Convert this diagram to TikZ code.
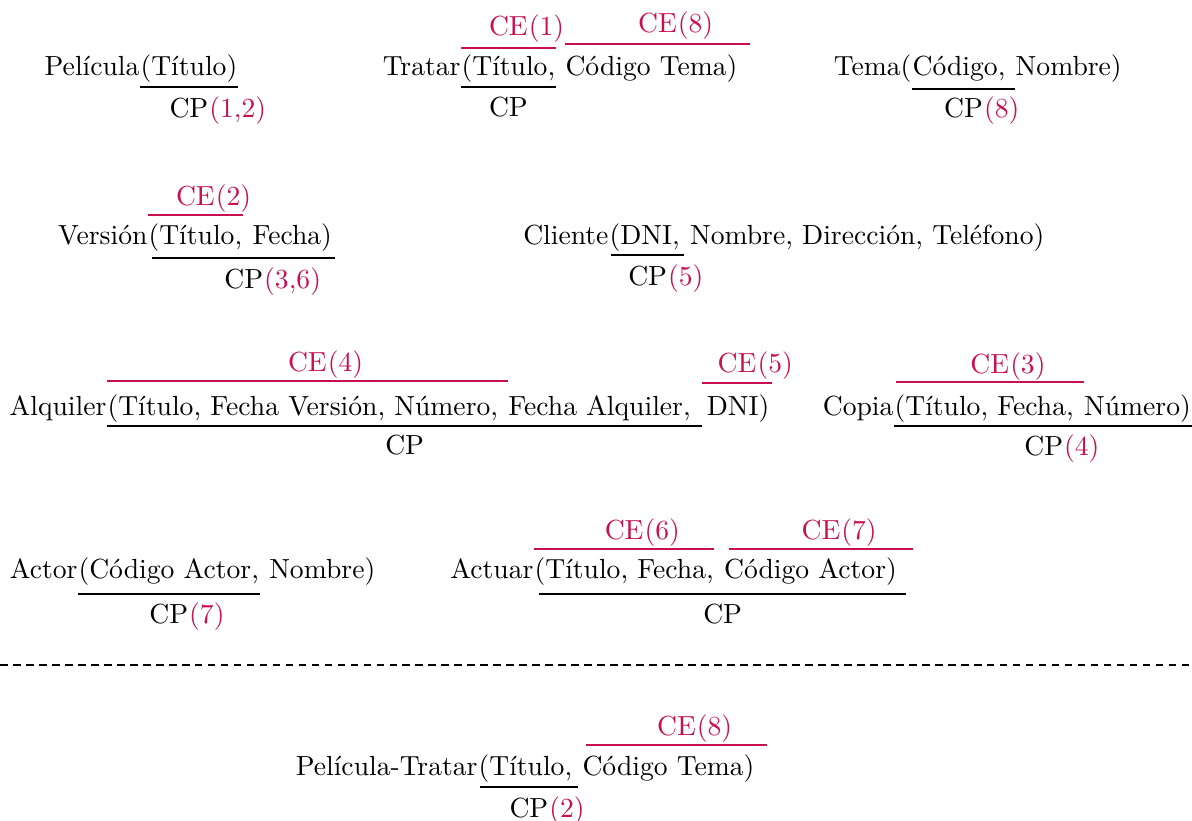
\documentclass[tikz,border=0pt]{standalone}
\usepackage{tikz}
\usetikzlibrary{calc}
\definecolor{fkred}{RGB}{200,16,80}

\begin{document}
\begin{tikzpicture}[
x=0.362pt,
y=-0.362pt,
rgt/.style={
  inner sep=0pt,
  anchor=base west
  },
lft/.style={
  inner sep=0pt,
  anchor=base east
  },
cen/.style={
  inner sep=0pt,
  anchor=base
  },
cet/.style={
  cen,
  text=fkred
  },
num/.style={
  rgt,
  text=fkred
  },
pk/.style={
  draw=black,
  line width=0.6pt
  },
fk/.style={
  draw=fkred,
  line width=0.6pt
  }
]
\useasboundingbox (0,0) rectangle (1192,821);

% Pelicula
\node[rgt] (pel-k) at (140,76) {(Título)};
\node[lft] (pel) at (pel-k.base west) {Película};
\draw[pk] ($(pel-k.base west)+(0,11)$) coordinate (pel-a) -- ($(pel-k.base east)+(0,11)$) coordinate (pel-b);
\node[cen] (pel-cp) at ($(pel-a)!0.5!(pel-b)+(0,31)$) {CP};
\node[num] (pel-n) at (pel-cp.base east) {(1,2)};

% Tratar
\node[rgt] (tra-k) at (461,76) {(Título,};
\node[lft] (tra) at (tra-k.base west) {Tratar};
\node[rgt] (tra-r) at ([xshift=3.33pt]tra-k.base east) {Código Tema)};
\draw[pk] ($(tra-k.base west)+(0,11)$) coordinate (tra-a) -- ($(tra-k.base east)+(0,11)$) coordinate (tra-b);
\node[cen] (tra-cp) at ($(tra-a)!0.5!(tra-b)+(0,30)$) {CP};
\draw[fk] ($(tra-k.base west)+(0,-28)$) coordinate (tra-c) -- ($(tra-k.base east)+(0,-28)$) coordinate (tra-d);
\node[cet] (tra-ce1) at ($(tra-c)!0.5!(tra-d)+(0,-12)$) {CE};
\node[num] (tra-n1) at (tra-ce1.base east) {(1)};
\draw[fk] ($(tra-r.base west)+(0,-32)$) coordinate (tra-e) -- ($(tra-r.base east)+(12,-32)$) coordinate (tra-f);
\node[cet] (tra-ce8) at ($(tra-e)!0.5!(tra-f)+(0,-11)$) {CE};
\node[num] (tra-n8) at (tra-ce8.base east) {(8)};

% Tema
\node[rgt] (tem-k) at (912,76) {Código,};
\node[lft] (tem) at (tem-k.base west) {Tema(};
\node[rgt] (tem-r) at ([xshift=3.33pt]tem-k.base east) {Nombre)};
\draw[pk] ($(tem-k.base west)+(0,13)$) coordinate (tem-a) -- ($(tem-r.base west)+(0,13)$) coordinate (tem-b);
\node[cen] (tem-cp) at ($(tem-a)!0.5!(tem-b)+(0,29)$) {CP};
\node[num] (tem-n) at (tem-cp.base east) {(8)};

% Version
\node[rgt] (ver-k) at (148,244) {(Título,};
\node[lft] (ver) at (ver-k.base west) {Versión};
\node[rgt] (ver-r) at ([xshift=3.33pt]ver-k.base east) {Fecha)};
\draw[fk] ($(ver-k.base west)+(0,-29)$) coordinate (ver-c) -- ($(ver-k.base east)+(0,-29)$) coordinate (ver-d);
\node[cet] (ver-ce) at ($(ver-c)!0.5!(ver-d)+(0,-10)$) {CE};
\node[num] (ver-n2) at (ver-ce.base east) {(2)};
\draw[pk] ($(ver-k.base west)+(4,14)$) coordinate (ver-a) -- ($(ver-r.base east)+(3,14)$) coordinate (ver-b);
\node[cen] (ver-cp) at ($(ver-a)!0.5!(ver-b)+(0,30)$) {CP};
\node[num] (ver-n) at (ver-cp.base east) {(3,6)};

% Cliente
\node[rgt] (cli-k) at (609,244) {(DNI,};
\node[lft] (cli) at (cli-k.base west) {Cliente};
\node[rgt] (cli-r) at ([xshift=3.33pt]cli-k.base east) {Nombre, Dirección, Teléfono)};
\draw[pk] ($(cli-k.base west)+(2,11)$) coordinate (cli-a) -- ($(cli-k.base east)+(4,11)$) coordinate (cli-b);
\node[cen] (cli-cp) at ($(cli-a)!0.5!(cli-b)+(0,30)$) {CP};
\node[num] (cli-n) at (cli-cp.base east) {(5)};

% Alquiler
\node[rgt] (alq-k) at (107,415) {(Título, Fecha Versión, Número,};
\node[lft] (alq) at (alq-k.base west) {Alquiler};
\node[rgt] (alq-m) at ([xshift=3.33pt]alq-k.base east) {Fecha Alquiler,};
\node[rgt] (alq-r) at ($(alq-m.base east)+(15,0)$) {DNI)};
\draw[fk] ($(alq-k.base west)+(0,-34)$) coordinate (alq-c) -- ($(alq-m.base west)+(0,-34)$) coordinate (alq-d);
\node[cet] (alq-ce4) at ($(alq-c)!0.5!(alq-d)+(0,-10)$) {CE};
\node[num] (alq-n4) at (alq-ce4.base east) {(4)};
\draw[fk] ($(alq-r.base west)+(-4,-32)$) coordinate (alq-e) -- ($(alq-r.base east)+(2,-32)$) coordinate (alq-f);
\node[cet] (alq-ce5) at ($(alq-e)!0.5!(alq-f)+(0,-11)$) {CE};
\node[num] (alq-n5) at (alq-ce5.base east) {(5)};
\draw[pk] ($(alq-k.base west)+(0,11)$) coordinate (alq-a) -- ($(alq-r.base west)+(-4,11)$) coordinate (alq-b);
\node[cen] (alq-cp) at ($(alq-a)!0.5!(alq-b)+(0,28)$) {CP};

% Copia
\node[rgt] (cop-k) at (894,415) {(Título, Fecha,};
\node[lft] (cop) at (cop-k.base west) {Copia};
\node[rgt] (cop-r) at ([xshift=3.33pt]cop-k.base east) {Número)};
\draw[fk] ($(cop-k.base west)+(2,-33)$) coordinate (cop-c) -- ($(cop-r.base west)+(0,-33)$) coordinate (cop-d);
\node[cet] (cop-ce) at ($(cop-c)!0.5!(cop-d)+(0,-9)$) {CE};
\node[num] (cop-n3) at (cop-ce.base east) {(3)};
\draw[pk] ($(cop-k.base west)+(0,11)$) coordinate (cop-a) -- ($(cop-r.base east)+(2,11)$) coordinate (cop-b);
\node[cen] (cop-cp) at ($(cop-a)!0.5!(cop-b)+(0,29)$) {CP};
\node[num] (cop-n) at (cop-cp.base east) {(4)};

% Actor
\node[rgt] (act-k) at (78,578) {(Código Actor,};
\node[lft] (act) at (act-k.base west) {Actor};
\node[rgt] (act-r) at ([xshift=3.33pt]act-k.base east) {Nombre)};
\draw[pk] ($(act-k.base west)+(0,16)$) coordinate (act-a) -- ($(act-k.base east)+(0,16)$) coordinate (act-b);
\node[cen] (act-cp) at ($(act-a)!0.5!(act-b)+(0,29)$) {CP};
\node[num] (act-n) at (act-cp.base east) {(7)};

% Actuar
\node[rgt] (acr-k) at (534,578) {(Título, Fecha,};
\node[lft] (acr) at (acr-k.base west) {Actuar};
\node[rgt] (acr-r) at ([xshift=3.33pt]acr-k.base east) {Código Actor)};
\draw[fk] ($(acr-k.base west)+(0,-29)$) coordinate (acr-c) -- ($(acr-k.base east)+(0,-29)$) coordinate (acr-d);
\node[cet] (acr-ce6) at ($(acr-c)!0.5!(acr-d)+(0,-10)$) {CE};
\node[num] (acr-n6) at (acr-ce6.base east) {(6)};
\draw[fk] ($(acr-r.base west)+(5,-29)$) coordinate (acr-e) -- ($(acr-r.base east)+(16,-29)$) coordinate (acr-f);
\node[cet] (acr-ce7) at ($(acr-e)!0.5!(acr-f)+(0,-10)$) {CE};
\node[num] (acr-n7) at (acr-ce7.base east) {(7)};
\draw[pk] ($(acr-k.base west)+(5,16)$) coordinate (acr-a) -- ($(acr-r.base east)+(9,16)$) coordinate (acr-b);
\node[cen] (acr-cp) at ($(acr-a)!0.5!(acr-b)+(0,29)$) {CP};

% separator
\draw[line width=0.5pt, dash pattern=on 2.8pt off 1.9pt] (0,665) coordinate (sep-a) -- (1192,665) coordinate (sep-b);

% Pelicula-Tratar
\node[rgt] (ptr-k) at (478,775) {(Título,};
\node[lft] (ptr) at (ptr-k.base west) {Película-Tratar};
\node[rgt] (ptr-r) at ([xshift=3.33pt]ptr-k.base east) {Código Tema)};
\draw[pk] ($(ptr-k.base west)+(2,12)$) coordinate (ptr-a) -- ($(ptr-k.base east)+(5,12)$) coordinate (ptr-b);
\node[cen] (ptr-cp) at ($(ptr-a)!0.5!(ptr-b)+(0,30)$) {CP};
\node[num] (ptr-n) at (ptr-cp.base east) {(2)};
\draw[fk] ($(ptr-r.base west)+(4,-30)$) coordinate (ptr-e) -- ($(ptr-r.base east)+(12,-30)$) coordinate (ptr-f);
\node[cet] (ptr-ce8) at ($(ptr-e)!0.5!(ptr-f)+(0,-10)$) {CE};
\node[num] (ptr-n8) at (ptr-ce8.base east) {(8)};
\end{tikzpicture}
\end{document}
